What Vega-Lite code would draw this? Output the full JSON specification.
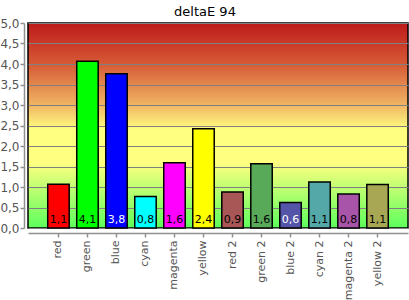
{
  "$schema": "https://vega.github.io/schema/vega-lite/v6.json",
  "width": 380,
  "height": 205,
  "autosize": "none",
  "padding": {"left": 28, "top": 23, "right": 1, "bottom": 72},
  "background": "white",
  "title": {"text": "deltaE 94", "fontSize": 13, "fontWeight": "normal", "font": "DejaVu Sans", "color": "black", "offset": -2, "dx": -13},
  "config": {
    "locale": {"number": {"decimal": ",", "thousands": ".", "grouping": [3], "currency": ["", " €"]}},
    "view": {
      "stroke": "black",
      "strokeWidth": 1.5,
      "fill": {
        "gradient": "linear", "x1": 0, "y1": 0, "x2": 0, "y2": 1,
        "stops": [
          {"offset": 0, "color": "#bd1a1a"},
          {"offset": 0.2, "color": "#d65a36"},
          {"offset": 0.4, "color": "#f0b464"},
          {"offset": 0.52, "color": "#ffff80"},
          {"offset": 0.68, "color": "#ffff80"},
          {"offset": 1, "color": "#5cff5c"}
        ]
      }
    },
    "axis": {"labelFont": "DejaVu Sans", "labelColor": "#555555", "domainColor": "#909090", "tickColor": "#909090", "domainWidth": 1.5, "tickWidth": 1.5}
  },
  "data": {"values": [
    {"name": "red", "value": 1.07},
    {"name": "green", "value": 4.07},
    {"name": "blue", "value": 3.76},
    {"name": "cyan", "value": 0.77},
    {"name": "magenta", "value": 1.59},
    {"name": "yellow", "value": 2.42},
    {"name": "red 2", "value": 0.88},
    {"name": "green 2", "value": 1.57},
    {"name": "blue 2", "value": 0.62},
    {"name": "cyan 2", "value": 1.12},
    {"name": "magenta 2", "value": 0.83},
    {"name": "yellow 2", "value": 1.06}
  ]},
  "encoding": {
    "x": {
      "field": "name", "type": "nominal", "sort": null,
      "scale": {"paddingInner": 0.26, "paddingOuter": 0.68},
      "axis": {"title": null, "labelAngle": -90, "labelFontSize": 11, "offset": 5, "tickSize": 4, "labelPadding": 3, "grid": false}
    },
    "y": {
      "field": "value", "type": "quantitative",
      "scale": {"domain": [0, 5], "nice": false},
      "axis": {"title": null, "values": [0, 0.5, 1, 1.5, 2, 2.5, 3, 3.5, 4, 4.5, 5], "format": ".1f", "labelFontSize": 12, "offset": 4, "tickSize": 4, "labelPadding": 1, "grid": true, "gridColor": "#808080", "gridWidth": 1.2, "gridOpacity": 1}
    }
  },
  "layer": [
    {
      "mark": {"type": "bar", "stroke": "black", "strokeWidth": 1.5},
      "encoding": {
        "color": {
          "field": "name", "type": "nominal", "legend": null,
          "scale": {
            "domain": ["red", "green", "blue", "cyan", "magenta", "yellow", "red 2", "green 2", "blue 2", "cyan 2", "magenta 2", "yellow 2"],
            "range": ["#ff0000", "#00ff00", "#0000ff", "#00ffff", "#ff00ff", "#ffff00", "#a85656", "#58aa58", "#5454a8", "#54a8a8", "#a854a8", "#a8a854"]
          }
        }
      }
    },
    {
      "mark": {"type": "text", "baseline": "bottom", "dy": -3, "fontSize": 11, "font": "DejaVu Sans"},
      "encoding": {
        "y": {"datum": 0},
        "text": {"field": "value", "type": "quantitative", "format": ".1f"},
        "color": {
          "condition": {"test": "datum.name === 'blue' || datum.name === 'blue 2'", "value": "white"},
          "value": "black"
        }
      }
    }
  ]
}
